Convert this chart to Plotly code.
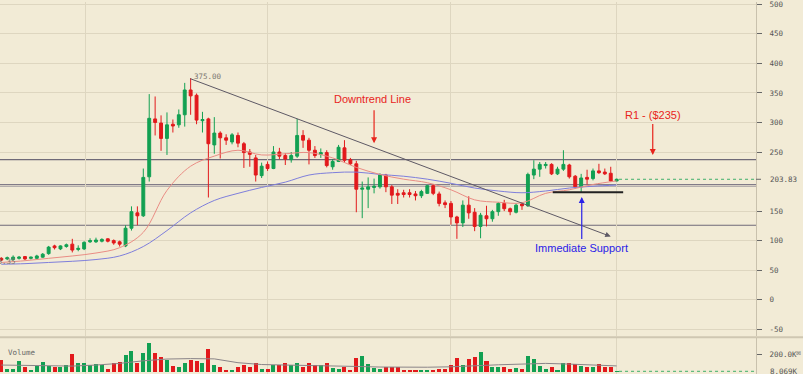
import plotly.graph_objects as go

# ---------------- data ----------------
bar_index = list(range(105))
open_ = [70, 69, 68, 70, 73, 70, 70, 72, 78, 91, 86, 90, 94, 85, 86, 98, 98, 99, 103, 100,
         98, 91, 121, 147, 142, 208, 306, 299, 273, 297, 296, 313, 355, 346, 303, 306, 262, 282, 274, 267,
         278, 264, 250, 240, 210, 229, 222, 250, 244, 237, 243, 278, 270, 253, 246, 249, 225, 234, 257, 237,
         230, 187, 187, 190, 191, 211, 191, 180, 181, 181, 179, 176, 180, 193, 179, 164, 163, 140, 130, 160,
         148, 124, 142, 137, 149, 163, 154, 148, 162, 159, 211, 221, 227, 229, 213, 221, 228, 209, 191, 207,
         205, 218, 216, 214, 201]
high = [72, 73, 75, 74, 74, 73, 76, 79, 91, 93, 92, 95, 103, 92, 99, 104, 105, 104, 104, 102,
        100, 126, 158, 158, 222, 348, 344, 312, 317, 305, 322, 367, 375, 349, 318, 308, 309, 285, 280, 282,
        283, 267, 255, 245, 232, 234, 260, 257, 248, 250, 306, 287, 274, 260, 256, 253, 238, 262, 270, 240,
        235, 200, 207, 205, 214, 213, 194, 187, 186, 187, 184, 186, 194, 195, 183, 168, 167, 142, 168, 175,
        155, 147, 159, 152, 165, 169, 156, 163, 165, 215, 236, 233, 233, 231, 225, 253, 230, 211, 213, 220,
        222, 230, 222, 225, 205]
low = [65, 67, 66, 68, 67, 68, 69, 71, 76, 85, 84, 88, 80, 82, 84, 96, 96, 97, 97, 93,
       90, 89, 117, 126, 140, 200, 278, 252, 245, 283, 291, 293, 313, 297, 283, 173, 247, 239, 262, 263,
       258, 223, 225, 200, 206, 218, 221, 238, 228, 232, 240, 257, 229, 240, 240, 224, 220, 233, 232, 228,
       148, 138, 155, 180, 188, 182, 162, 162, 173, 173, 168, 172, 179, 177, 158, 155, 127, 103, 123, 137,
       116, 104, 124, 132, 142, 150, 143, 146, 152, 157, 204, 208, 222, 211, 211, 218, 205, 188, 181, 195,
       202, 213, 211, 200, 200]
close = [67, 71, 72, 72, 69, 72, 74, 77, 89, 88, 91, 93, 84, 87, 97, 100, 101, 102, 99, 96,
         94, 121, 149, 142, 207, 307, 300, 273, 296, 294, 313, 355, 345, 304, 305, 264, 282, 274, 270, 279,
         265, 249, 246, 211, 226, 222, 250, 243, 238, 244, 278, 270, 253, 244, 249, 227, 234, 258, 236, 230,
         187, 189, 191, 192, 211, 191, 177, 177, 178, 178, 176, 183, 193, 180, 163, 161, 140, 130, 160, 147,
         124, 143, 137, 149, 163, 154, 149, 160, 159, 212, 221, 229, 229, 213, 221, 229, 208, 191, 206, 204,
         218, 215, 213, 201, 203.83]
volume_k = [137, 30, 35, 129, 50, 23, 68, 114, 68, 57, 61, 80, 202, 99, 99, 76, 88, 83, 35, 99,
            118, 194, 240, 99, 214, 331, 217, 175, 141, 65, 57, 103, 137, 121, 99, 267, 76, 61, 23, 23,
            61, 76, 57, 99, 38, 30, 83, 83, 106, 76, 103, 61, 99, 73, 73, 99, 42, 38, 50, 23,
            164, 187, 91, 46, 30, 50, 50, 50, 23, 23, 23, 21, 23, 23, 38, 35, 73, 164, 76, 144,
            167, 225, 126, 53, 57, 50, 35, 42, 30, 179, 144, 68, 35, 53, 23, 103, 99, 88, 68, 50,
            61, 91, 57, 57, 8.069]

# moving averages every 4 bars
ma_index = list(range(0, 105, 4))
ma_fast = [63, 66, 70, 74, 79, 88, 114, 185, 226, 243, 253, 245, 247, 249, 240, 224, 212, 204,
           198, 186, 169, 165, 164, 180, 186, 195, 201]
ma_slow = [60, 61, 63, 65, 68, 74, 90, 117, 147, 168, 180, 190, 199, 211, 215, 216, 212, 209,
           204, 197, 189, 184, 181, 184, 189, 192, 194]
vol_ma_k = [80, 75, 70, 68, 80, 99, 129, 149, 154, 151, 107, 86, 80, 77, 70, 64, 57, 53,
            55, 60, 75, 83, 91, 99, 91, 83, 70]

price_ticks = [-50, 0, 50, 100, 150, 250, 300, 350, 400, 450, 500]
price_tick_text = ["-50", "0", "50", "100", "150", "250", "300", "350", "400", "450", "500"]
last_price = 203.83
last_price_text = "203.83"
last_volume_text = "8.069K"
vol_ticks = [200000]
vol_tick_text = ["200.0K"]

resistance = 237
mid_level_a = 195
mid_level_b = 192
lower_level = 126
support_level = 182
trend_start = (31.7, 375)
trend_end = (103, 107)
trend_label = "375.00"
left_label = "63.35"

# ---------------- styling ----------------
BG = "#F2EBD6"
GRID = "#DED6C0"
GREEN = "#12A052"
RED = "#E2191C"
MONO = "DejaVu Sans Mono"
SANS = "Liberation Sans, Arial, sans-serif"

W, H = 803, 374
X_DOM = 756 / W
PRICE_DOM = [1 - 336 / H, 1]
VOL_DOM = [0, 36 / H]

volume = [v * 1000 for v in volume_k]
vol_ma = [v * 1000 for v in vol_ma_k]
vol_colors = [GREEN if c >= o else RED for o, c in zip(open_, close)]

fig = go.Figure()

fig.add_trace(go.Bar(x=bar_index, y=volume, marker_color=vol_colors, marker_line_width=0,
                     width=0.68, xaxis="x", yaxis="y2", showlegend=False))
fig.add_trace(go.Scatter(x=ma_index, y=vol_ma, mode="lines", line=dict(color="#8a8488", width=1),
                         xaxis="x", yaxis="y2", showlegend=False))

fig.add_trace(go.Scatter(x=ma_index, y=ma_slow, mode="lines", line=dict(color="#7E7EDB", width=1),
                         line_shape="spline", xaxis="x", yaxis="y", showlegend=False))
fig.add_trace(go.Scatter(x=ma_index, y=ma_fast, mode="lines", line=dict(color="#E98C84", width=1),
                         line_shape="spline", xaxis="x", yaxis="y", showlegend=False))

fig.add_trace(go.Candlestick(
    x=bar_index, open=open_, high=high, low=low, close=close,
    increasing=dict(line=dict(color=GREEN, width=1), fillcolor=GREEN),
    decreasing=dict(line=dict(color=RED, width=1), fillcolor=RED),
    whiskerwidth=0, xaxis="x", yaxis="y", showlegend=False))

shapes = []
def hline(y, color, width, x0=-1, x1=130, dash="solid", yref="y"):
    shapes.append(dict(type="line", xref="x", yref=yref, x0=x0, x1=x1, y0=y, y1=y,
                       line=dict(color=color, width=width, dash=dash), layer="below"))

hline(resistance, "#6F6A78", 1.2)
hline(mid_level_b, "#B5AFAD", 1.6)
hline(mid_level_a, "#817B88", 1.1)
hline(lower_level, "#6F6A78", 1.2)
shapes.append(dict(type="line", xref="x", yref="y", x0=93.2, x1=105.1, y0=support_level, y1=support_level,
                   line=dict(color="#222222", width=2)))
hline(last_price, "#3FAF6A", 1, x0=104.4, x1=128, dash="dot")
hline(8069, "#3FAF6A", 1, x0=104.4, x1=128, dash="dot", yref="y2")
# pane separator
shapes.append(dict(type="line", xref="paper", yref="paper", x0=0, x1=1, y0=1 - 337 / H, y1=1 - 337 / H,
                   line=dict(color="#CFC7B2", width=2)))
# tick for last price label
shapes.append(dict(type="line", xref="paper", yref="y", x0=X_DOM, x1=X_DOM + 5 / W, y0=last_price, y1=last_price,
                   line=dict(color="#666666", width=1)))

annotations = [
    # downtrend line
    dict(x=trend_end[0], y=trend_end[1], ax=trend_start[0], ay=trend_start[1], xref="x", yref="y",
         axref="x", ayref="y", text="", showarrow=True, arrowhead=2, arrowsize=1.1, arrowwidth=1,
         arrowcolor="#5E5965", standoff=0, startstandoff=0),
    dict(x=trend_start[0] + 0.6, y=trend_start[1] + 2, xref="x", yref="y", text=trend_label, showarrow=False,
         xanchor="left", yanchor="middle", font=dict(family=MONO, size=7.5, color="#7A7670")),
    dict(x=2.85, y=65, xref="x", yref="y", text=left_label, showarrow=False, xanchor="right",
         yanchor="middle", font=dict(family=MONO, size=7.5, color="#7A7670")),
    # Downtrend Line label + arrow
    dict(x=62.7, y=340, xref="x", yref="y", text="Downtrend Line", showarrow=False,
         font=dict(family=SANS, size=11, color="#E8241C")),
    dict(x=63.0, y=265, ax=63.0, ay=323, xref="x", yref="y", axref="x", ayref="y", text="",
         showarrow=True, arrowhead=2, arrowsize=1, arrowwidth=1.2, arrowcolor="#E8241C", standoff=0),
    # R1
    dict(x=110.1, y=313, xref="x", yref="y", text="R1 - ($235)", showarrow=False,
         font=dict(family=SANS, size=11, color="#E8241C")),
    dict(x=110.1, y=245, ax=110.1, ay=300, xref="x", yref="y", axref="x", ayref="y", text="",
         showarrow=True, arrowhead=2, arrowsize=1, arrowwidth=1.2, arrowcolor="#E8241C", standoff=0),
    # Immediate support
    dict(x=98.1, y=88, xref="x", yref="y", text="Immediate Support", showarrow=False,
         font=dict(family=SANS, size=11, color="#2A22E8")),
    dict(x=98.1, y=174, ax=98.1, ay=100, xref="x", yref="y", axref="x", ayref="y", text="",
         showarrow=True, arrowhead=2, arrowsize=1, arrowwidth=1.2, arrowcolor="#2A22E8", standoff=0),
    # axis extras
    dict(x=768 / W, y=last_price, xref="paper", yref="y", text=last_price_text, showarrow=False,
         xanchor="left", yanchor="middle", font=dict(family=MONO, size=7.5, color="#555555")),
    dict(x=768 / W, y=8069, xref="paper", yref="y2", text=last_volume_text, showarrow=False,
         xanchor="left", yanchor="middle", font=dict(family=MONO, size=7.5, color="#555555")),
    dict(x=6 / W, y=1 - 352.7 / H, xref="paper", yref="paper", text="Volume", showarrow=False,
         xanchor="left", yanchor="middle", font=dict(family=MONO, size=7.5, color="#666666")),
    dict(x=794 / W, y=1 - 352 / H, xref="paper", yref="paper", text="⊠", showarrow=False,
         xanchor="left", yanchor="middle", font=dict(family="DejaVu Sans", size=6, color="#777777")),
]

fig.update_layout(
    width=W, height=H, autosize=False,
    margin=dict(l=0, r=0, t=0, b=0),
    paper_bgcolor=BG, plot_bgcolor=BG,
    showlegend=False, bargap=0,
    shapes=shapes, annotations=annotations,
    xaxis=dict(domain=[0, X_DOM], range=[-0.22, 127.55], anchor="y2",
               tickvals=[14.15, 45.07, 76.0, 103.9], showticklabels=False, ticks="",
               showgrid=True, gridcolor=GRID, gridwidth=1, zeroline=False, showline=False,
               rangeslider=dict(visible=False), fixedrange=True),
    yaxis=dict(domain=PRICE_DOM, range=[-61.8, 503.9], side="right", anchor="x",
               tickvals=price_ticks, ticktext=price_tick_text, ticks="outside", ticklen=5,
               tickcolor="#666666", ticklabelstandoff=6, ticklabeloverflow="allow",
               tickfont=dict(family=MONO, size=7.5, color="#555555"),
               showgrid=True, gridcolor=GRID, gridwidth=1, zeroline=False,
               showline=True, linecolor="#C9C1AD", linewidth=1),
    yaxis2=dict(domain=VOL_DOM, range=[-22900, 388600], side="right", anchor="x",
                tickvals=vol_ticks, ticktext=vol_tick_text, ticks="outside", ticklen=5,
                tickcolor="#666666", ticklabelstandoff=6,
                tickfont=dict(family=MONO, size=7.5, color="#555555"),
                showgrid=False, zeroline=False,
                showline=True, linecolor="#C9C1AD", linewidth=1),
)

fig.write_html("out.html", config={"displayModeBar": False},
               post_script="document.body.style.margin='0px';document.body.style.overflow='hidden';")
